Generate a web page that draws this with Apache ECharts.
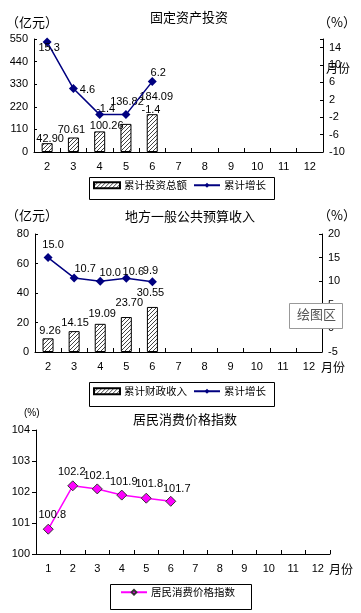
<!DOCTYPE html>
<html><head><meta charset="utf-8">
<script src="https://cdn.jsdelivr.net/npm/echarts@6/dist/echarts.min.js"></script>
<style>html,body{margin:0;padding:0;background:#fff}#c{width:361px;height:613px}</style>
</head><body><div id="c"></div>
<script>
// ---- data ----
const months1 = ['2','3','4','5','6','7','8','9','10','11','12'];
const invest = [42.90, 70.61, 100.26, 136.82, 184.09];
const investGrowth = [15.3, 4.6, -1.4, -1.4, 6.2];
const months2 = ['2','3','4','5','6','7','8','9','10','11','12'];
const revenue = [9.26, 14.15, 19.09, 23.70, 30.55];
const revenueGrowth = [15.0, 10.7, 10.0, 10.6, 9.9];
const months3 = ['1','2','3','4','5','6','7','8','9','10','11','12'];
const cpi = [100.8, 102.2, 102.1, 101.9, 101.8, 101.7];

// ---- label offsets (style) ----
const investLblOff = [[3,1],[-2,-2],[7,0],[1,-16],[4,-12]];
const investGrowthLblOff = [[2,6],[14,1],[6,-6],[25,-5],[6,-9]];
const revenueLblOff = [[2,-2],[1,-3],[2,-4],[3,-9],[-2,-8]];
const revenueGrowthLblOff = [[5,-13],[11,-9],[10,-8],[7,-6],[-2,-11]];
const cpiLblOff = [[4,-14],[-1,-14],[0,-13],[2,-13],[3,-14],[6,-12]];

const FONT = '"Liberation Sans", "Noto Sans CJK SC", sans-serif';
const CJK = '"Noto Sans CJK SC", sans-serif';

// hatch pattern
const pc = document.createElement('canvas');
pc.width = 4; pc.height = 4;
const g = pc.getContext('2d');
g.fillStyle = '#fff'; g.fillRect(0,0,4,4);
g.strokeStyle = '#444'; g.lineWidth = 1;
g.beginPath(); g.moveTo(0,4); g.lineTo(4,0); g.moveTo(-1,1); g.lineTo(1,-1); g.moveTo(3,5); g.lineTo(5,3); g.stroke();
const hatch = {image: pc, repeat: 'repeat'};

function itemData(vals, offs){
  return vals.map((v,i)=>({value:v,label:{offset:offs[i]}}));
}
const axisLineBlack = {show:true, lineStyle:{color:'#000', width:1}};
function catAxis(gi, cats){
  return {type:'category', gridIndex:gi, data:cats, boundaryGap:true,
    axisLine:axisLineBlack, axisTick:{show:true, inside:true, length:4, lineStyle:{color:'#000'}},
    axisLabel:{color:'#000', fontSize:11, fontFamily:FONT, margin:9}};
}
function valAxis(gi, min, max, interval, pos, opts){
  return Object.assign({type:'value', gridIndex:gi, min:min, max:max, interval:interval, position:pos,
    axisLine:axisLineBlack, splitLine:{show:false},
    axisTick:{show:true, inside:true, length:3, lineStyle:{color:'#000'}},
    axisLabel:{color:'#000', fontSize:11, fontFamily:FONT, margin:6}}, opts||{});
}
function lbl(extra, digits){
  return Object.assign({show:true, color:'#000', fontSize:11, fontFamily:FONT,
    formatter:p=>Number(p.value).toFixed(digits)}, extra);
}
const legendBase = {orient:'horizontal', borderWidth:0, padding:0,
  itemGap:6, itemWidth:26, itemHeight:6, textStyle:{fontSize:10.5, fontFamily:CJK, color:'#000', padding:[0,0,0,-1]}, selectedMode:false};
const titleStyle = {fontSize:13, fontWeight:'normal', fontFamily:CJK, color:'#000'};

const option = {
  animation:false,
  backgroundColor:'#fff',
  title:[
    {text:'固定资产投资', left:184, top:6, textAlign:'center', textStyle:titleStyle},
    {text:'地方一般公共预算收入', left:185, top:205, textAlign:'center', textStyle:titleStyle},
    {text:'居民消费价格指数', left:180, top:408, textAlign:'center', textStyle:titleStyle}
  ],
  grid:[
    {left:34, width:289, top:39, height:113},
    {left:35, width:287, top:234, height:118},
    {left:36, width:294, top:430, height:124}
  ],
  xAxis:[ catAxis(0, months1), catAxis(1, months2), catAxis(2, months3) ],
  yAxis:[
    valAxis(0, 0, 550, 110, 'left'),
    valAxis(0, -10, 16, 4, 'right', {axisLabel:{color:'#000', fontSize:11, fontFamily:FONT, margin:6, formatter:v=> v===16?'':String(v)}}),
    valAxis(1, 0, 80, 20, 'left'),
    valAxis(1, -5, 20, 5, 'right'),
    valAxis(2, 100, 104, 1, 'left', {axisTick:{show:true, inside:false, length:4, lineStyle:{color:'#000'}}})
  ],
  legend:[
    Object.assign({}, legendBase, {left:93, top:180, data:[{name:'累计投资总额', icon:'rect'},'累计增长']}),
    Object.assign({}, legendBase, {left:93, top:386, data:[{name:'累计财政收入', icon:'rect'},'累计增长 ']}),
    Object.assign({}, legendBase, {left:120, top:587, data:['居民消费价格指数']})
  ],
  series:[
    {name:'累计投资总额', type:'bar', xAxisIndex:0, yAxisIndex:0, barWidth:11,
      itemStyle:{color:hatch, borderColor:'#000', borderWidth:1},
      label:lbl({position:'top', distance:0}, 2), data:itemData(invest, investLblOff)},
    {name:'累计增长', type:'line', xAxisIndex:0, yAxisIndex:1, symbol:'diamond', symbolSize:9,
      lineStyle:{color:'#000080', width:1.5}, itemStyle:{color:'#000080'},
      label:lbl({position:'inside'}, 1), data:itemData(investGrowth, investGrowthLblOff)},
    {name:'累计财政收入', type:'bar', xAxisIndex:1, yAxisIndex:2, barWidth:11,
      itemStyle:{color:hatch, borderColor:'#000', borderWidth:1},
      label:lbl({position:'top', distance:0}, 2), data:itemData(revenue, revenueLblOff)},
    {name:'累计增长 ', type:'line', xAxisIndex:1, yAxisIndex:3, symbol:'diamond', symbolSize:9,
      lineStyle:{color:'#000080', width:1.5}, itemStyle:{color:'#000080'},
      label:lbl({position:'inside'}, 1), data:itemData(revenueGrowth, revenueGrowthLblOff)},
    {name:'居民消费价格指数', type:'line', xAxisIndex:2, yAxisIndex:4, symbol:'diamond', symbolSize:10,
      lineStyle:{color:'#FF00FF', width:1.5}, itemStyle:{color:'#FF00FF', borderColor:'#333', borderWidth:1},
      label:lbl({position:'inside'}, 1), data:itemData(cpi, cpiLblOff)}
  ],
  graphic:[
    {type:'text', left:6, top:16, style:{text:'（亿元）', fontSize:13, fontFamily:CJK, fill:'#000'}},
    {type:'text', left:318, top:16, style:{text:'（%）', fontSize:13, fontFamily:CJK, fill:'#000'}},
    {type:'text', left:326, top:62, style:{text:'月份', fontSize:12, fontFamily:CJK, fill:'#000'}},
    {type:'text', left:6, top:209, style:{text:'（亿元）', fontSize:13, fontFamily:CJK, fill:'#000'}},
    {type:'text', left:318, top:209, style:{text:'（%）', fontSize:13, fontFamily:CJK, fill:'#000'}},
    {type:'text', left:321, top:361, style:{text:'月份', fontSize:12, fontFamily:CJK, fill:'#000'}},
    {type:'text', left:24, top:408, style:{text:'(%)', fontSize:10, fontFamily:FONT, fill:'#000'}},
    {type:'text', left:329, top:563, style:{text:'月份', fontSize:12, fontFamily:CJK, fill:'#000'}},
    {type:'rect', left:87, top:175, shape:{width:185, height:22}, style:{fill:'none', stroke:'#000', lineWidth:1}},
    {type:'rect', left:87, top:380, shape:{width:185, height:24}, style:{fill:'none', stroke:'#000', lineWidth:1}},
    {type:'rect', left:108, top:582, shape:{width:141, height:25}, style:{fill:'none', stroke:'#000', lineWidth:1}},
    {type:'rect', left:289, top:303, shape:{width:53, height:25}, style:{fill:'#fff', stroke:'#999', lineWidth:1}, z:100},
    {type:'text', left:297, top:308, style:{text:'绘图区', fontSize:13, fontFamily:CJK, fill:'#555'}, z:101}
  ]
};
const chart = echarts.init(document.getElementById('c'), null, {renderer:'canvas'});
chart.setOption(option);
</script>
</body></html>
